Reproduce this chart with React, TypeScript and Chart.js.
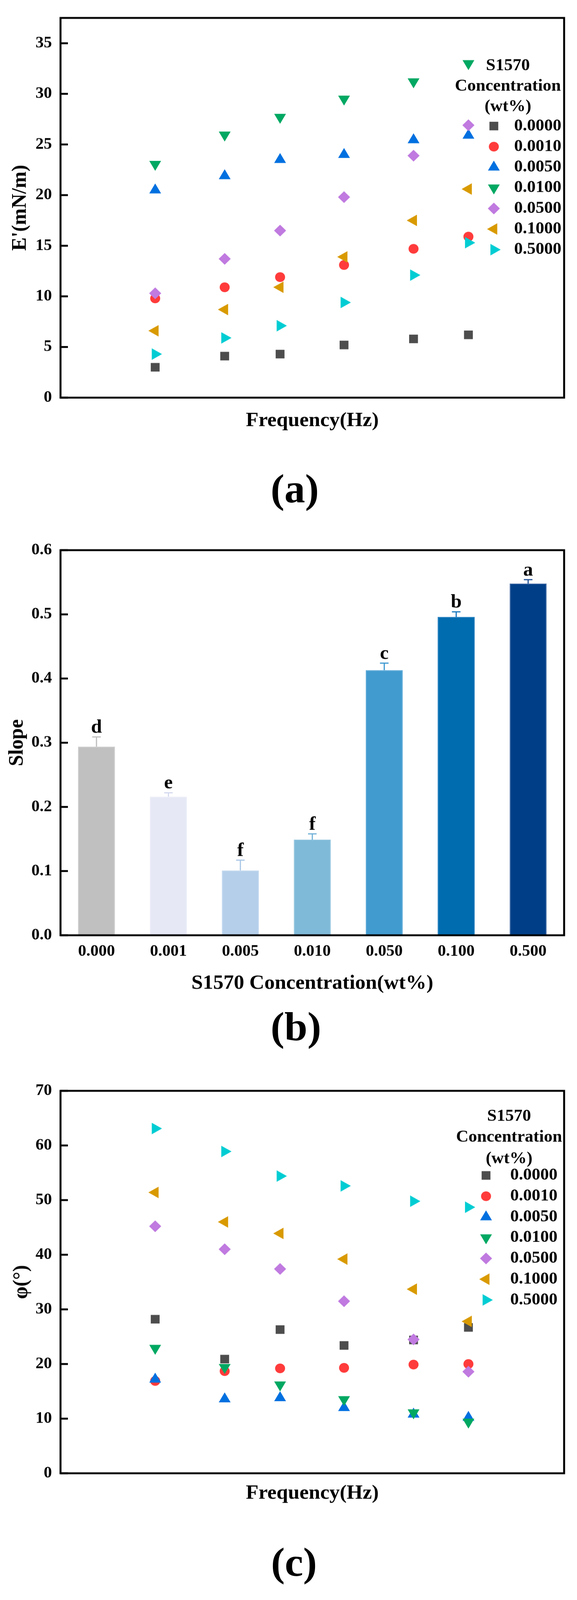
import React, { useEffect, useRef } from 'react';
import { Chart, ChartConfiguration, PointElement, Plugin, registerables } from 'chart.js';

Chart.register(...registerables);

const FONT = "'Liberation Serif', 'Times New Roman', Times, serif";
Chart.defaults.font.family = FONT;
Chart.defaults.color = '#000';

const PAGE_W = 1478;
const PAGE_H = 4217;

// ---- data ----
// frequency points, as position along the unlabelled x axis (0..100)
const freqPos = [18.8, 32.6, 43.6, 56.3, 70.1, 81.0];
const concLabels = ['0.0000', '0.0010', '0.0050', '0.0100', '0.0500', '0.1000', '0.5000'];

// (a) E' (mN/m)
const e0000 = [3.0, 4.1, 4.3, 5.2, 5.8, 6.2];
const e0010 = [9.8, 10.9, 11.9, 13.1, 14.7, 15.9];
const e0050 = [20.5, 21.9, 23.5, 24.0, 25.45, 25.9];
const e0100 = [23.05, 25.95, 27.7, 29.5, 31.2, 33.0];
const e0500 = [10.3, 13.7, 16.5, 19.8, 23.9, 26.9];
const e1000 = [6.6, 8.7, 10.9, 13.9, 17.5, 20.6];
const e5000 = [4.3, 5.9, 7.1, 9.4, 12.1, 15.3];

// (b) slope vs concentration
const slopeLabels = ['0.000', '0.001', '0.005', '0.010', '0.050', '0.100', '0.500'];
const slopeValues = [0.294, 0.216, 0.101, 0.149, 0.413, 0.496, 0.548];
const slopeErrors = [0.015, 0.006, 0.016, 0.009, 0.011, 0.008, 0.006];
const slopeLetters = ['d', 'e', 'f', 'f', 'c', 'b', 'a'];

// (c) phase angle (°)
const p0000 = [28.2, 20.9, 26.3, 23.4, 24.4, 26.7];
const p0010 = [16.9, 18.7, 19.2, 19.3, 19.9, 20.0];
const p0050 = [17.2, 13.6, 13.8, 12.0, 10.8, 10.2];
const p0100 = [22.9, 19.4, 16.2, 13.5, 11.1, 9.4];
const p0500 = [45.2, 41.0, 37.4, 31.5, 24.5, 18.6];
const p1000 = [51.4, 46.0, 43.9, 39.2, 33.7, 27.8];
const p5000 = [63.1, 58.9, 54.4, 52.6, 49.8, 48.7];

// ---- styles ----
const seriesColors = ['#4d4d4d', '#ff3b3b', '#0070e0', '#00a862', '#c07ae0', '#d99a00', '#00cdd3'];
const markers = [
  { style: 'rect', rotation: 0, radius: 16 },
  { style: 'circle', rotation: 0, radius: 12.8 },
  { style: 'triangle', rotation: 0, radius: 17.5 },
  { style: 'triangle', rotation: 180, radius: 17.5 },
  { style: 'rectRot', rotation: 0, radius: 15.5 },
  { style: 'triangle', rotation: 270, radius: 17.5 },
  { style: 'triangle', rotation: 90, radius: 17.5 },
];
const barColors = ['#c0c0c0', '#e6e8f6', '#b5cfea', '#80bad9', '#419bcf', '#006cb0', '#003f88'];
const barEdges = ['#cacaca', '#eceef8', '#c0d7ee', '#8ec3de', '#5aa9d8', '#2f86c2', '#4a6fa8'];
const errColors = ['#bdbdbd', '#d3d7ee', '#a9c6e6', '#6fb0d6', '#3b97cf', '#1a78bd', '#1d4f96'];

const tickFont = { family: FONT, size: 42, weight: 'bold' as const };
const titleFont = { family: FONT, size: 53, weight: 'bold' as const };
const legendFont = `bold 44px ${FONT}`;

// frame around the plot area plus inward ticks on the y axis
const framePlugin: Plugin = {
  id: 'frame',
  afterDraw(chart) {
    const { ctx, chartArea } = chart;
    const { left, top, right, bottom } = chartArea;
    const y = chart.scales.y;
    ctx.save();
    ctx.strokeStyle = '#000';
    ctx.lineWidth = 5;
    ctx.beginPath();
    y.ticks.forEach((t) => {
      const py = y.getPixelForValue(t.value);
      ctx.moveTo(left, py);
      ctx.lineTo(left + 19, py);
    });
    ctx.stroke();
    ctx.strokeRect(left, top, right - left, bottom - top);
    ctx.restore();
  },
};

interface LegendLayout {
  titleDx: number;
  titleRows: number[];
  firstRow: number;
  rowGap: number;
  markerDx: number;
  textDx: number;
}

const makeLegend = (lay: LegendLayout): Plugin => ({
  id: 'concLegend',
  afterDraw(chart) {
    const { ctx, chartArea } = chart;
    const { top, right } = chartArea;
    ctx.save();
    ctx.fillStyle = '#000';
    ctx.font = legendFont;
    ctx.textBaseline = 'middle';
    ctx.textAlign = 'center';
    ['S1570', 'Concentration', '(wt%)'].forEach((t, i) => {
      ctx.fillText(t, right - lay.titleDx, top + lay.titleRows[i]);
    });
    concLabels.forEach((label, i) => {
      const yy = top + lay.firstRow + i * lay.rowGap;
      const m = markers[i];
      const pt = new PointElement({
        x: right - lay.markerDx,
        y: yy,
        options: {
          pointStyle: m.style,
          rotation: m.rotation,
          radius: m.radius,
          backgroundColor: seriesColors[i],
          borderColor: seriesColors[i],
          borderWidth: 0,
        },
      } as any);
      pt.draw(ctx);
      ctx.fillStyle = '#000';
      ctx.font = legendFont;
      ctx.textAlign = 'left';
      ctx.fillText(label, right - lay.textDx, yy);
    });
    ctx.restore();
  },
});

const scatterConfig = (
  series: number[][],
  yMax: number,
  yStep: number,
  yTitle: string,
  yTitlePad: number,
  padTop: number,
  xAxisHeight: number,
  xTitlePad: number,
  legend: LegendLayout
): ChartConfiguration => ({
  type: 'scatter',
  data: {
    datasets: series.map((ys, i) => ({
      label: concLabels[i],
      data: ys.map((v, j) => ({ x: freqPos[j], y: v })),
      pointStyle: markers[i].style as any,
      pointRotation: markers[i].rotation,
      pointRadius: markers[i].radius,
      pointBackgroundColor: seriesColors[i],
      pointBorderColor: seriesColors[i],
      pointBorderWidth: 0,
      order: 6 - i,
      clip: false as any,
    })),
  },
  options: {
    animation: false,
    responsive: true,
    maintainAspectRatio: false,
    layout: { padding: { top: padTop, right: 33, left: 0, bottom: 0 } },
    plugins: { legend: { display: false }, tooltip: { enabled: false } },
    scales: {
      x: {
        type: 'linear',
        min: 0,
        max: 100,
        grid: { display: false, drawTicks: false },
        border: { display: false },
        ticks: { display: false },
        title: { display: true, text: 'Frequency(Hz)', font: titleFont, color: '#000', padding: { top: 0, bottom: xTitlePad } },
        afterFit: (s: any) => {
          s.height = xAxisHeight;
        },
      },
      y: {
        min: 0,
        max: yMax,
        afterBuildTicks: (s: any) => {
          s.ticks = s.ticks.filter((t: any) => Math.abs(t.value / yStep - Math.round(t.value / yStep)) < 1e-6);
        },
        ticks: { stepSize: yStep, font: tickFont, color: '#000', padding: 22 },
        grid: { display: false, drawTicks: false },
        border: { display: false },
        title: { display: true, text: yTitle, font: titleFont, color: '#000', padding: { top: yTitlePad, bottom: 0 } },
        afterFit: (s: any) => {
          s.width = 155;
        },
      },
    },
  },
  plugins: [framePlugin, makeLegend(legend)],
});

const errorBarPlugin: Plugin = {
  id: 'errorBars',
  afterDatasetsDraw(chart) {
    const { ctx } = chart;
    const y = chart.scales.y;
    const meta = chart.getDatasetMeta(0);
    ctx.save();
    meta.data.forEach((bar: any, i) => {
      const yTop = y.getPixelForValue(slopeValues[i] + slopeErrors[i]);
      ctx.strokeStyle = errColors[i];
      ctx.lineWidth = 3;
      ctx.beginPath();
      ctx.moveTo(bar.x, bar.y);
      ctx.lineTo(bar.x, yTop);
      ctx.moveTo(bar.x - 11, yTop);
      ctx.lineTo(bar.x + 11, yTop);
      ctx.stroke();
      ctx.fillStyle = '#000';
      ctx.font = `bold 50px ${FONT}`;
      ctx.textAlign = 'center';
      ctx.textBaseline = 'alphabetic';
      ctx.fillText(slopeLetters[i], bar.x, yTop - 11);
    });
    ctx.restore();
  },
};

const barConfig = (): ChartConfiguration => ({
  type: 'bar',
  data: {
    labels: slopeLabels,
    datasets: [
      {
        data: slopeValues,
        backgroundColor: barColors,
        borderColor: barEdges,
        borderWidth: 2,
        borderSkipped: 'bottom',
        barPercentage: 0.515,
        categoryPercentage: 1,
      },
    ],
  },
  options: {
    animation: false,
    responsive: true,
    maintainAspectRatio: false,
    layout: { padding: { top: 50, right: 33, left: 0, bottom: 0 } },
    plugins: { legend: { display: false }, tooltip: { enabled: false } },
    scales: {
      x: {
        grid: { display: false, drawTicks: false },
        border: { display: false },
        ticks: { font: tickFont, color: '#000', padding: 18 },
        title: { display: true, text: 'S1570 Concentration(wt%)', font: titleFont, color: '#000', padding: { top: 0, bottom: 26 } },
        afterFit: (s: any) => {
          s.height = 185;
        },
      },
      y: {
        min: 0,
        max: 0.6,
        ticks: { stepSize: 0.1, font: tickFont, color: '#000', padding: 22, callback: (v: any) => Number(v).toFixed(1) },
        grid: { display: false, drawTicks: false },
        border: { display: false },
        title: { display: true, text: 'Slope', font: titleFont, color: '#000', padding: { top: 13, bottom: 0 } },
        afterFit: (s: any) => {
          s.width = 155;
        },
      },
    },
  },
  plugins: [errorBarPlugin, framePlugin],
});

const ChartPanel: React.FC<{ top: number; height: number; build: () => ChartConfiguration }> = ({ top, height, build }) => {
  const canvasRef = useRef<HTMLCanvasElement>(null);

  useEffect(() => {
    if (!canvasRef.current) return;
    const chart = new Chart(canvasRef.current, build());
    return () => {
      chart.destroy();
    };
  }, []);

  return (
    <div style={{ position: 'absolute', left: 0, top, width: PAGE_W, height }}>
      <canvas ref={canvasRef}></canvas>
    </div>
  );
};

const Caption: React.FC<{ text: string; cx: number; cy: number }> = ({ text, cx, cy }) => (
  <div
    style={{
      position: 'absolute',
      left: cx - 200,
      top: cy - 64,
      width: 400,
      textAlign: 'center',
      font: `bold 106px/106px ${FONT}`,
      color: '#000',
    }}
  >
    {text}
  </div>
);

export default function App() {
  // the visible page can be a little shorter than the figure; squeeze it vertically so it all shows
  const k = typeof window !== 'undefined' && window.innerHeight > 0 ? Math.min(1, window.innerHeight / PAGE_H) : 1;

  return (
    <div style={{ position: 'absolute', left: 0, top: 0, width: PAGE_W, height: PAGE_H * k, overflow: 'hidden', background: '#fff' }}>
      <div
        style={{
          position: 'relative',
          width: PAGE_W,
          height: PAGE_H,
          transform: `scale(1, ${k})`,
          transformOrigin: '0 0',
        }}
      >
        <ChartPanel
          top={0}
          height={1160}
          build={() =>
            scatterConfig([e0000, e0010, e0050, e0100, e0500, e1000, e5000], 37.5, 5, "E'(mN/m)", 21, 32, 112, 19, {
              titleDx: 144,
              titleRows: [126, 180, 234],
              firstRow: 285,
              rowGap: 54.3,
              markerDx: 180,
              textDx: 128,
            })
          }
        />
        <Caption text="(a)" cx={755} cy={1300} />
        <ChartPanel top={1400} height={1250} build={barConfig} />
        <Caption text="(b)" cx={758} cy={2718} />
        <ChartPanel
          top={2800}
          height={1200}
          build={() =>
            scatterConfig([p0000, p0010, p0050, p0100, p0500, p1000, p5000], 70, 10, 'φ(°)', 24, 75, 117, 32, {
              titleDx: 141,
              titleRows: [68, 123, 180],
              firstRow: 223,
              rowGap: 54.7,
              markerDx: 200,
              textDx: 138,
            })
          }
        />
        <Caption text="(c)" cx={753} cy={4129} />
      </div>
    </div>
  );
}
